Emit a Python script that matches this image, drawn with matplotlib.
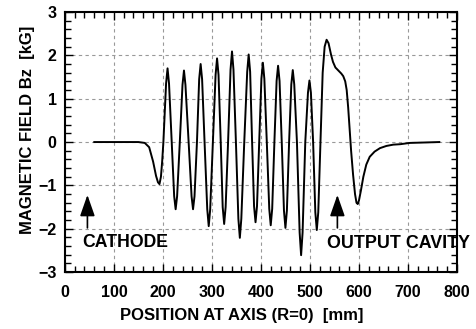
import numpy as np
import matplotlib
matplotlib.use("Agg")
import matplotlib.pyplot as plt
from matplotlib.ticker import MultipleLocator

plt.rcParams['font.family'] = ['Liberation Sans', 'DejaVu Sans']
plt.rcParams['font.weight'] = 'bold'

# position along axis [mm] and Bz [kG]
pos = [60, 100, 150, 163, 172, 180, 186, 190, 193, 196, 198.5, 201,
       206.5, 209.5, 212.5, 218, 223, 226, 229, 234.5,
       240, 243, 246, 252.5, 258.5, 261.5, 264.5, 269.5,
       274, 277, 280, 285, 290.5, 293.5, 296.5, 302,
       307.5, 310.5, 313.5, 318, 322, 325, 328, 333,
       338, 341, 344, 349, 354, 357, 360, 366,
       372, 375, 378, 382, 386, 389, 392, 396.5,
       401, 404, 407, 412, 417, 420, 423, 427.5,
       432, 435, 438, 442.5, 447, 450, 453, 457.5,
       462, 465, 468, 473.5, 479, 482, 485, 490.5,
       496, 499, 502, 506.5, 511, 514, 517, 521.5,
       526, 530, 534, 538, 543, 547, 552, 558, 564, 568, 572, 575,
       578, 581, 584, 588, 592, 595, 597.5, 600, 604, 609, 615, 622,
       632, 643, 656, 670, 684, 704, 735, 764]
bz = [0.0, 0.0, 0.0, -0.02, -0.12, -0.45, -0.78, -0.93, -0.97, -0.80, -0.45, 0.0,
      1.35, 1.70, 1.35, 0.0, -1.25, -1.55, -1.25, 0.0,
      1.32, 1.65, 1.32, 0.0, -1.25, -1.55, -1.25, 0.0,
      1.45, 1.80, 1.45, 0.0, -1.55, -1.94, -1.55, 0.0,
      1.55, 1.93, 1.55, 0.0, -1.50, -1.89, -1.50, 0.0,
      1.67, 2.09, 1.67, 0.0, -1.77, -2.21, -1.77, 0.0,
      1.62, 2.02, 1.62, 0.0, -1.48, -1.85, -1.48, 0.0,
      1.46, 1.83, 1.46, 0.0, -1.54, -1.92, -1.54, 0.0,
      1.41, 1.76, 1.41, 0.0, -1.58, -1.98, -1.58, 0.0,
      1.33, 1.66, 1.33, 0.0, -2.09, -2.61, -2.09, 0.0,
      1.14, 1.42, 1.14, 0.0, -1.62, -2.03, -1.62, 0.0,
      1.60, 2.20, 2.36, 2.28, 2.02, 1.85, 1.72, 1.65, 1.58, 1.52, 1.40, 1.20,
      0.80, 0.30, -0.20, -0.75, -1.20, -1.40, -1.43, -1.35, -1.12, -0.80, -0.52, -0.34,
      -0.22, -0.14, -0.09, -0.06, -0.05, -0.02, -0.01, 0.0]

xticks = [0, 100, 200, 300, 400, 500, 600, 700, 800]
yticks = [-3, -2, -1, 0, 1, 2, 3]

fig = plt.figure(figsize=(4.77, 3.29), dpi=100)
ax = fig.add_axes([0.136, 0.173, 0.822, 0.7905])

ax.plot(pos, bz, color='black', lw=1.4, solid_joinstyle='round')

ax.set_xlim(0, 800)
ax.set_ylim(-3, 3)
ax.set_xticks(xticks)
ax.set_yticks(yticks)
ax.xaxis.set_minor_locator(MultipleLocator(20))
ax.yaxis.set_minor_locator(MultipleLocator(0.2))
ax.tick_params(which='both', direction='in', top=True, right=True, width=1)
ax.tick_params(which='major', length=6, labelsize=11.5)
ax.tick_params(axis='x', which='major', pad=9)
ax.tick_params(axis='y', which='major', pad=6)
ax.tick_params(which='minor', length=4)
for s in ax.spines.values():
    s.set_linewidth(1.5)
ax.grid(True, which='major', color='#999999', ls=(0, (3, 3)), lw=0.8)

ax.set_xlabel('POSITION AT AXIS (R=0)  [mm]', fontsize=12, fontweight='bold')
ax.set_ylabel('MAGNETIC FIELD Bz  [kG]', fontsize=12, fontweight='bold')
ax.xaxis.set_label_coords(0.45, -0.138)
ax.yaxis.set_label_coords(-0.077, 0.546)

for xa in [46, 556]:
    ax.annotate('', xy=(xa, -1.22), xytext=(xa, -1.98),
                arrowprops=dict(arrowstyle='-|>,head_length=1.0,head_width=0.35',
                                mutation_scale=13, lw=1.2, color='black',
                                shrinkA=0, shrinkB=0))

ax.text(36, -2.31, 'CATHODE', fontsize=12.7, fontweight='bold', va='center', ha='left')
ax.text(534, -2.33, 'OUTPUT CAVITY', fontsize=12.9, fontweight='bold', va='center',
        ha='left', clip_on=False)

fig.savefig('out.png', dpi=100)
